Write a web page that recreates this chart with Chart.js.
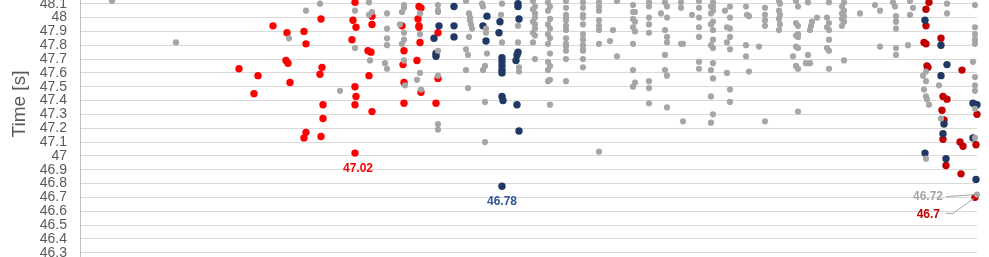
<!DOCTYPE html>
<html><head><meta charset="utf-8">
<script src="https://cdn.jsdelivr.net/npm/chart.js@4.4.1/dist/chart.umd.min.js"></script>
<style>
html,body{margin:0;padding:0;background:#fff;overflow:hidden;}
#wrap{position:relative;width:989px;height:257px;overflow:hidden;background:#fff;}
#c{position:absolute;left:0;top:-73px;}
</style></head><body>
<div id="wrap"><canvas id="c" width="989" height="354"></canvas></div>
<script>
// y-axis tick values (seconds)
const yTicks = [46.3,46.4,46.5,46.6,46.7,46.8,46.9,47.0,47.1,47.2,47.3,47.4,47.5,47.6,47.7,47.8,47.9,48.0,48.1,48.2,48.3,48.4,48.5];

// Other results: [x position, [times...]]
const othersByColumn = [
 [3.2, [48.12]], [9.6, [47.82]], [20.9, [47.85]], [22.6, [48.05]], [24.0, [48.10]], [26.0, [47.47]],
 [27.5, [48.05, 47.78]], [28.9, [48.11, 48.02]], [29.2, [48.04]], [29.0, [47.69]],
 [30.7, [48.03, 47.92, 47.85, 47.80, 47.63]], [30.5, [47.67]],
 [32.4, [48.09, 48.07, 47.89, 47.84, 47.69]], [32.2, [48.04, 47.81]], [32.0, [47.95]], [32.5, [47.51]],
 [34.0, [48.03, 47.88, 47.60]], [34.1, [47.48]], [33.7, [47.55]],
 [35.8, [48.09, 48.05, 48.04, 47.76, 47.58, 47.23, 47.19]],
 [38.6, [48.12, 47.77, 47.62]], [38.9, [48.03, 47.86]], [39.0, [48.00, 47.98]], [39.1, [47.95]], [39.2, [47.92]], [38.8, [47.73, 47.49]],
 [40.2, [48.10]], [40.3, [48.08, 47.62]], [40.6, [47.92, 47.89]], [40.7, [47.74]], [40.5, [47.65, 47.39, 47.10]],
 [42.2, [48.10, 47.82]], [42.1, [48.02]],
 [43.8, [47.94, 47.82]], [43.9, [47.64, 47.61]],
 [45.3, [48.12, 48.06, 47.97, 47.89, 47.82]], [45.5, [48.08, 48.03, 48.00, 47.95, 47.92, 47.87, 47.70]],
 [46.8, [48.11, 48.05, 47.95, 47.88, 47.81, 47.68, 47.62, 47.54]], [47.0, [48.08, 47.99, 47.92, 47.85, 47.74, 47.65, 47.55, 47.37]],
 [48.6, [48.12, 48.07, 48.02, 48.00, 47.98, 47.94, 47.91, 47.85, 47.81, 47.79, 47.76, 47.70, 47.54]],
 [50.3, [48.11, 48.07, 48.02, 48.00, 47.95, 47.88, 47.84, 47.80, 47.77, 47.76, 47.70, 47.64]],
 [51.9, [48.11, 48.08, 48.05, 47.98, 47.94, 47.91, 47.81, 47.03]],
 [53.3, [47.91]], [53.0, [47.83]], [53.7, [48.12, 47.72]],
 [55.3, [48.09, 48.04, 47.99, 47.93, 47.81, 47.62, 47.50]], [55.5, [48.04, 47.97, 47.90, 47.53]],
 [56.9, [48.11, 48.08, 48.00, 47.95, 47.89, 47.54, 47.49, 47.38]],
 [58.5, [48.11, 47.91, 47.73, 47.62]], [58.7, [48.08, 48.00, 47.86, 47.82, 47.58, 47.35]], [58.1, [48.03]],
 [60.1, [48.11, 48.07, 47.81]], [60.3, [47.81, 47.25]], [61.2, [48.02]],
 [61.9, [48.12, 48.07, 48.00, 47.93, 47.86, 47.68, 47.63]],
 [63.3, [48.11, 48.08, 48.05, 47.97, 47.91, 47.84, 47.78, 47.67, 47.56, 47.30]],
 [63.1, [48.08, 48.03, 47.95, 47.80, 47.62, 47.43, 47.24]],
 [64.5, [48.05]], [65.0, [48.08, 48.00, 47.92, 47.86, 47.77, 47.48, 47.39]], [64.7, [47.93, 47.82, 47.60]],
 [66.6, [48.08, 47.80, 47.72]], [66.7, [48.02]], [66.9, [48.01, 47.61]], [67.9, [47.79]],
 [68.5, [48.07, 48.02, 47.98, 47.94, 47.25]],
 [69.9, [48.12, 48.05, 47.99, 47.91]], [70.0, [48.10, 48.02, 47.95]],
 [71.6, [48.12, 47.96, 47.87, 47.79, 47.65]], [71.8, [48.08, 47.94, 47.88, 47.86, 47.78, 47.63, 47.32]], [71.3, [47.72]],
 [72.8, [48.11, 47.73]], [72.6, [47.67]], [73.0, [47.91, 47.67]], [73.1, [47.94]], [73.2, [47.97]], [73.7, [48.00]],
 [74.9, [48.11, 47.96, 47.91, 47.84, 47.76, 47.63]], [74.7, [48.00, 47.93, 47.78]],
 [76.4, [48.11, 48.05, 48.01, 47.97, 47.69]], [76.2, [48.08, 48.03, 47.99, 47.94]],
 [78.0, [48.03]], [79.5, [48.09]], [80.0, [48.05, 47.79]],
 [81.3, [48.11]], [81.5, [48.08]], [81.6, [48.01, 47.97, 47.92, 47.78, 47.73]],
 [82.8, [47.80]], [83.0, [48.12, 48.02]], [83.3, [48.07]],
 [84.6, [47.61, 47.54, 47.43, 46.98]], [84.3, [47.58]], [84.4, [47.48]], [84.7, [47.41]], [84.9, [47.37]],
 [85.9, [47.51]], [86.1, [47.27]], [86.7, [48.10, 48.03]],
 [89.5, [48.09, 47.93, 47.88, 47.84, 47.81, 47.57, 47.51, 47.47, 47.34, 47.13]], [89.3, [47.68]], [89.7, [46.72]]
];

// Highlighted athletes: [x position, time]
const redPoints = [
 [15.9,47.63],[19.3,47.94],[20.7,47.89],[22.4,47.90],[22.6,47.81],[24.1,47.99],[20.6,47.69],[20.8,47.67],
 [17.8,47.58],[17.4,47.45],[21.0,47.53],[24.2,47.64],[24.0,47.59],[24.3,47.37],[24.3,47.27],[22.6,47.17],
 [22.4,47.13],[24.1,47.14],[27.5,47.02],[27.5,48.11],[27.3,47.98],[27.6,47.93],[27.2,47.84],[29.2,48.01],
 [29.2,47.95],[28.8,47.76],[29.1,47.75],[28.9,47.58],[27.5,47.50],[27.6,47.43],[27.5,47.37],[29.2,47.32],
 [32.2,47.94],[32.4,47.76],[32.3,47.66],[32.4,47.53],[32.4,47.38],[33.9,48.08],[34.1,48.07],[33.8,47.99],
 [33.9,47.94],[33.9,47.93],[34.0,47.82],[33.7,47.69],[34.1,47.46],[35.8,47.89],[35.8,47.56],[35.6,47.38]
];
const navyPoints = [
 [37.4,48.08],[35.9,47.94],[37.4,47.94],[35.4,47.85],[37.4,47.86],[35.6,47.74],[35.6,47.72],
 [40.7,48.01],[40.3,47.94],[40.6,47.83],[42.0,47.97],[41.9,47.89],[43.8,48.10],[43.8,48.08],[43.9,47.99],
 [43.8,47.75],[43.7,47.73],[43.6,47.69],[42.2,47.71],[42.2,47.68],[42.2,47.65],[42.2,47.62],[42.2,47.60],
 [42.2,47.43],[42.3,47.40],[43.7,47.37],[43.9,47.18],[42.2,46.78],
 [84.5,47.98],[86.1,47.80],[86.7,47.66],[86.1,47.58],[86.4,47.23],[86.3,47.16],[84.5,47.02],[86.6,46.98],
 [89.3,47.38],[89.7,47.37],[89.3,47.13],[89.6,46.83]
];
const darkRedPoints = [
 [84.9,48.11],[84.6,48.06],[84.6,47.94],[84.4,47.82],[84.6,47.81],[84.7,47.65],[84.8,47.64],
 [86.1,47.85],[86.3,47.43],[86.7,47.41],[86.2,47.33],[86.4,47.26],[86.3,47.12],[86.6,46.93],
 [88.2,47.62],[88.0,47.10],[88.3,47.07],[88.1,46.87],[89.7,47.30],[89.6,47.08],[89.5,46.70]
];

const toXY = arr => arr.map(p => ({x: p[0], y: p[1]}));
const othersData = [];
othersByColumn.forEach(c => c[1].forEach(t => othersData.push({x: c[0], y: t})));

const FONT = '"Liberation Sans", Arial, sans-serif';

// label for the best (minimum) time of each series
const minLabelPlugin = {
  id: 'minLabels',
  afterDatasetsDraw(chart) {
    const ctx = chart.ctx;
    chart.data.datasets.forEach((ds, i) => {
      const cfg = ds.minLabel;
      if (!cfg) return;
      let mi = 0;
      ds.data.forEach((d, j) => { if (d.y < ds.data[mi].y) mi = j; });
      const el = chart.getDatasetMeta(i).data[mi];
      const px = el.x, py = el.y;
      const text = String(Number(ds.data[mi].y.toFixed(2)));
      ctx.save();
      if (cfg.leader) {
        ctx.strokeStyle = '#A6A6A6';
        ctx.lineWidth = 1;
        ctx.beginPath();
        cfg.leader.forEach((p, k) => { if (k === 0) ctx.moveTo(px + p[0], py + p[1]); else ctx.lineTo(px + p[0], py + p[1]); });
        ctx.stroke();
      }
      ctx.font = 'bold 12px ' + FONT;
      ctx.fillStyle = cfg.color;
      ctx.textAlign = cfg.align;
      ctx.textBaseline = 'middle';
      ctx.fillText(text, px + cfg.dx, py + cfg.dy);
      ctx.restore();
    });
  }
};

new Chart(document.getElementById('c'), {
  type: 'scatter',
  data: {
    datasets: [
      {label: 'Others', data: othersData, backgroundColor: '#A6A6A6', pointRadius: 3.1, borderWidth: 0,
       minLabel: {color: '#A6A6A6', align: 'right', dx: -34, dy: 2, leader: [[-31, 2], [-1, 0]]}},
      {label: 'Athlete B', data: toXY(navyPoints), backgroundColor: '#203864', pointRadius: 3.7, borderWidth: 0,
       minLabel: {color: '#2F5597', align: 'center', dx: 0, dy: 15}},
      {label: 'Athlete A', data: toXY(redPoints), backgroundColor: '#FF0000', pointRadius: 3.7, borderWidth: 0,
       minLabel: {color: '#FF0000', align: 'center', dx: 3, dy: 16}},
      {label: 'Athlete A (later)', data: toXY(darkRedPoints), backgroundColor: '#C00000', pointRadius: 3.7, borderWidth: 0,
       minLabel: {color: '#C00000', align: 'right', dx: -35, dy: 17, leader: [[-29, 16], [-22, 16], [-1, 1]]}}
    ]
  },
  options: {
    responsive: false,
    animation: false,
    events: [],
    clip: false,
    layout: {padding: {top: 20, bottom: 20, left: 0, right: 12}},
    plugins: {legend: {display: false}, tooltip: {enabled: false}},
    scales: {
      x: {type: 'linear', display: false, min: 0, max: 89.7},
      y: {
        type: 'linear', min: 46.25, max: 48.5,
        afterBuildTicks: s => { s.ticks = yTicks.map(v => ({value: v})); },
        afterFit: s => { s.width = 80; },
        ticks: {autoSkip: false, padding: 13, color: '#595959', font: {family: FONT, size: 14},
                callback: v => String(Number(Number(v).toFixed(1)))},
        grid: {color: '#D9D9D9', lineWidth: 1, drawTicks: false},
        border: {display: true, color: '#BFBFBF', width: 1},
        title: {display: true, text: 'Time [s]', color: '#595959', font: {family: FONT, size: 19}, padding: {top: 8, bottom: 0}}
      }
    }
  },
  plugins: [minLabelPlugin]
});
</script>
</body></html>
